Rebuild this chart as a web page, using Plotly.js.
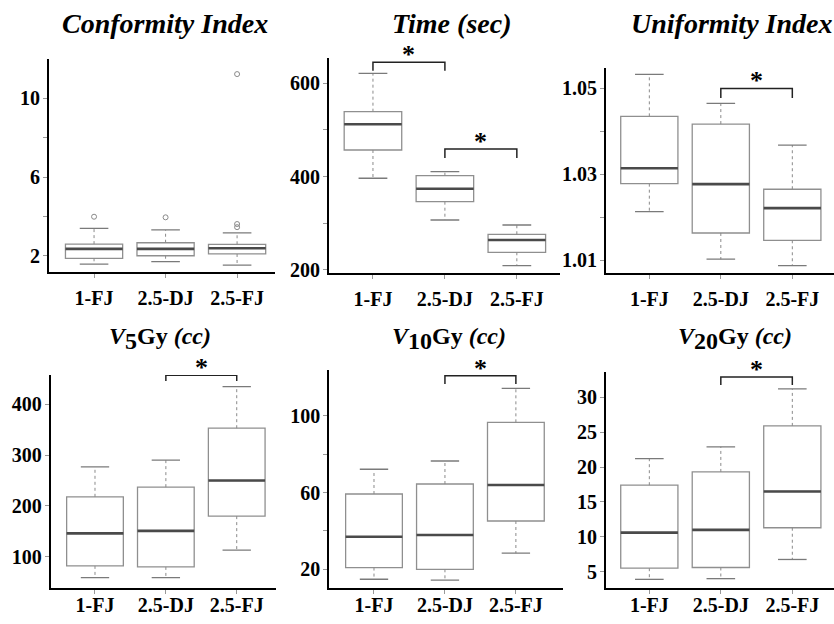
<!DOCTYPE html>
<html><head><meta charset="utf-8">
<script src="https://cdn.plot.ly/plotly-3.0.1.min.js"></script>
<style>html,body{margin:0;padding:0;background:#fff}#chart{width:834px;height:624px}</style>
</head><body><div id="chart"></div>
<script>
// ---------- data ----------
const categories = ['1-FJ', '2.5-DJ', '2.5-FJ'];

// Conformity Index
const ciLow  = [1.58, 1.71, 1.53];
const ciQ1   = [1.88, 2.01, 2.10];
const ciMed  = [2.36, 2.36, 2.39];
const ciQ3   = [2.60, 2.67, 2.59];
const ciHigh = [3.40, 3.32, 3.17];
const ciOutCat = ['1-FJ', '2.5-DJ', '2.5-FJ', '2.5-FJ', '2.5-FJ'];
const ciOutVal = [3.99, 3.96, 3.62, 3.46, 11.23];

// Time (sec)
const tLow  = [396.5, 307.1, 209.4];
const tQ1   = [457.1, 346.3, 237.9];
const tMed  = [512.2, 374.2, 264.3];
const tQ3   = [539.2, 402.0, 276.5];
const tHigh = [621.4, 410.6, 296.4];

// Uniformity Index
const uiLow  = [1.0213, 1.0102, 1.0087];
const uiQ1   = [1.0278, 1.0163, 1.0146];
const uiMed  = [1.0314, 1.0277, 1.0221];
const uiQ3   = [1.0435, 1.0417, 1.0265];
const uiHigh = [1.0533, 1.0465, 1.0368];

// V5Gy (cc)
const v5Low  = [59, 59, 113];
const v5Q1   = [82, 80, 180];
const v5Med  = [146, 151, 250];
const v5Q3   = [218, 237, 353];
const v5High = [277, 290, 435];

// V10Gy (cc)
const v10Low  = [14.8, 14.4, 28.4];
const v10Q1   = [20.9, 20.0, 45.2];
const v10Med  = [37.0, 37.9, 64.0];
const v10Q3   = [59.3, 64.5, 96.7];
const v10High = [72.2, 76.5, 114.4];

// V20Gy (cc)
const v20Low  = [3.9, 4.0, 6.75];
const v20Q1   = [5.5, 5.6, 11.3];
const v20Med  = [10.6, 11.0, 16.5];
const v20Q3   = [17.4, 19.3, 25.9];
const v20High = [21.2, 22.9, 31.2];

// significance brackets (panel number, from-category, to-category, bracket level, drop level)
const sigPanel = [2, 2, 3, 4, 5, 6];
const sigFrom  = ['1-FJ', '2.5-DJ', '2.5-DJ', '2.5-DJ', '2.5-DJ', '2.5-DJ'];
const sigTo    = ['2.5-DJ', '2.5-FJ', '2.5-FJ', '2.5-FJ', '2.5-FJ', '2.5-FJ'];
const sigLevel = [645, 459, 1.0500, 457, 121, 32.9];
const sigDrop  = [627, 440, 1.0478, 446, 116.7, 31.76];

// tick labels
const ciTicks = [2, 4, 6, 8, 10],            ciTickText = ['2', ' ', '6', ' ', '10'];
const tTicks = [200, 300, 400, 500, 600],    tTickText = ['200', ' ', '400', ' ', '600'];
const uiTicks = [1.01, 1.02, 1.03, 1.04, 1.05], uiTickText = ['1.01', ' ', '1.03', ' ', '1.05'];
const v5Ticks = [100, 200, 300, 400],        v5TickText = ['100', '200', '300', '400'];
const v10Ticks = [20, 40, 60, 80, 100],      v10TickText = ['20', ' ', '60', ' ', '100'];
const v20Ticks = [5, 10, 15, 20, 25, 30],    v20TickText = ['5', '10', '15', '20', '25', '30'];

const titles = [
  '<b><i>Conformity Index</i></b>',
  '<b><i>Time (sec)</i></b>',
  '<b><i>Uniformity Index</i></b>',
  '<b><i>V</i><sub><span style="font-size:24px">5</span></sub>Gy <i>(cc)</i></b>',
  '<b><i>V</i><sub><span style="font-size:24px">10</span></sub>Gy <i>(cc)</i></b>',
  '<b><i>V</i><sub><span style="font-size:24px">20</span></sub>Gy <i>(cc)</i></b>'
];

// ---------- layout geometry (pixels) ----------
const W = 834, H = 624;
const FONT = 'Liberation Serif';
const dom = [ // left, right, top, bottom
  [49, 275, 59.3, 271.7],
  [329, 560, 58, 272.5],
  [606, 834, 68.3, 273.3],
  [50.7, 275.7, 375, 587.5],
  [329.3, 562.7, 370, 588],
  [606, 834, 371.7, 588]
];
const xr = [[0.37, 3.53], [0.389, 3.6], [0.394, 3.583], [0.375, 3.55], [0.37, 3.66], [0.394, 3.583]];
const yr = [[1.2, 11.98], [194.6, 654.2], [1.0069, 1.0547], [39.5, 457.7], [10.24, 124.0], [2.66, 33.67]];
const titlePos = [[165, 24], [451, 24], [731, 24], [160, 338], [449, 338], [735, 338]];
const titleSize = [28, 28, 28, 24, 24, 24];

const stats = [
  [ciLow, ciQ1, ciMed, ciQ3, ciHigh],
  [tLow, tQ1, tMed, tQ3, tHigh],
  [uiLow, uiQ1, uiMed, uiQ3, uiHigh],
  [v5Low, v5Q1, v5Med, v5Q3, v5High],
  [v10Low, v10Q1, v10Med, v10Q3, v10High],
  [v20Low, v20Q1, v20Med, v20Q3, v20High]
];
const ticks = [[ciTicks, ciTickText], [tTicks, tTickText], [uiTicks, uiTickText],
               [v5Ticks, v5TickText], [v10Ticks, v10TickText], [v20Ticks, v20TickText]];

const pos = categories.map((c, i) => i + 1);
const catPos = c => categories.indexOf(c) + 1;
const BOXW = 0.8, CAPW = 0.4;

const traces = [];
const layout = {
  width: W, height: H, margin: {l: 0, r: 0, t: 0, b: 0},
  paper_bgcolor: '#fff', plot_bgcolor: '#fff', showlegend: false,
  font: {family: FONT, color: '#000'},
  shapes: [], annotations: []
};

stats.forEach((s, k) => {
  const n = k + 1;
  const xa = 'x' + (n === 1 ? '' : n), ya = 'y' + (n === 1 ? '' : n);
  const [lo, q1, med, q3, hi] = s;
  traces.push({
    type: 'box', x: pos, q1: q1, median: med, q3: q3, lowerfence: q1, upperfence: q3,
    width: BOXW, whiskerwidth: 0, boxpoints: false, fillcolor: '#fff',
    line: {color: '#8f8f8f', width: 1.3}, xaxis: xa, yaxis: ya, hoverinfo: 'skip'
  });
  const wx = [], wy = [];
  pos.forEach((p, i) => { wx.push(p, p, null, p, p, null); wy.push(q3[i], hi[i], null, q1[i], lo[i], null); });
  traces.push({type: 'scatter', mode: 'lines', x: wx, y: wy, xaxis: xa, yaxis: ya,
    line: {color: '#8a8a8a', width: 1, dash: 'dot'}, hoverinfo: 'skip'});
  const cx = [], cy = [];
  pos.forEach((p, i) => {
    cx.push(p - CAPW / 2, p + CAPW / 2, null, p - CAPW / 2, p + CAPW / 2, null);
    cy.push(hi[i], hi[i], null, lo[i], lo[i], null);
  });
  traces.push({type: 'scatter', mode: 'lines', x: cx, y: cy, xaxis: xa, yaxis: ya,
    line: {color: '#7a7a7a', width: 1.3}, hoverinfo: 'skip'});
  const mx = [], my = [];
  pos.forEach((p, i) => { mx.push(p - BOXW / 2, p + BOXW / 2, null); my.push(med[i], med[i], null); });
  traces.push({type: 'scatter', mode: 'lines', x: mx, y: my, xaxis: xa, yaxis: ya,
    line: {color: '#4a4a4a', width: 2.6}, hoverinfo: 'skip'});

  const d = dom[k];
  const xkey = 'xaxis' + (n === 1 ? '' : n), ykey = 'yaxis' + (n === 1 ? '' : n);
  layout[xkey] = {
    domain: [d[0] / W, d[1] / W], range: xr[k], anchor: ya,
    tickvals: pos, ticktext: categories, ticks: 'outside', ticklen: 4, tickcolor: '#999', tickwidth: 1,
    showline: true, linecolor: '#000', linewidth: 2, showgrid: false, zeroline: false,
    tickfont: {family: FONT, size: 20, color: '#000', weight: 'bold'},
    ticklabelstandoff: n <= 3 ? 3 : -6, fixedrange: true
  };
  layout[ykey] = {
    domain: [1 - d[3] / H, 1 - d[2] / H], range: yr[k], anchor: xa,
    tickvals: ticks[k][0], ticktext: ticks[k][1], ticks: 'outside', ticklen: 4, tickcolor: '#999', tickwidth: 1,
    showline: true, linecolor: '#000', linewidth: 2, showgrid: false, zeroline: false,
    tickfont: {family: FONT, size: 20, color: '#000', weight: 'bold'},
    ticklabelstandoff: -1, fixedrange: true
  };
  layout.annotations.push({
    xref: 'paper', yref: 'paper', x: titlePos[k][0] / W, y: 1 - titlePos[k][1] / H,
    xanchor: 'center', yanchor: 'middle', showarrow: false, text: titles[k],
    font: {family: FONT, size: titleSize[k], color: '#000'}
  });
});

traces.push({type: 'scatter', mode: 'markers', x: ciOutCat.map(catPos), y: ciOutVal,
  xaxis: 'x', yaxis: 'y', marker: {symbol: 'circle-open', size: 5, color: '#8a8a8a', line: {width: 1}},
  hoverinfo: 'skip'});

sigPanel.forEach((p, i) => {
  const sfx = p === 1 ? '' : p;
  const a = catPos(sigFrom[i]), b = catPos(sigTo[i]);
  traces.push({type: 'scatter', mode: 'lines', xaxis: 'x' + sfx, yaxis: 'y' + sfx,
    x: [a, a, b, b], y: [sigDrop[i], sigLevel[i], sigLevel[i], sigDrop[i]],
    line: {color: '#222', width: 1.5}, hoverinfo: 'skip', cliponaxis: false});
  layout.annotations.push({xref: 'x' + sfx, yref: 'y' + sfx, x: (a + b) / 2, y: sigLevel[i],
    xanchor: 'center', yanchor: 'bottom', showarrow: false, text: '<b>*</b>', yshift: -9,
    font: {family: FONT, size: 26, color: '#000'}});
});

Plotly.newPlot('chart', traces, layout, {staticPlot: true});
</script>
</body></html>
